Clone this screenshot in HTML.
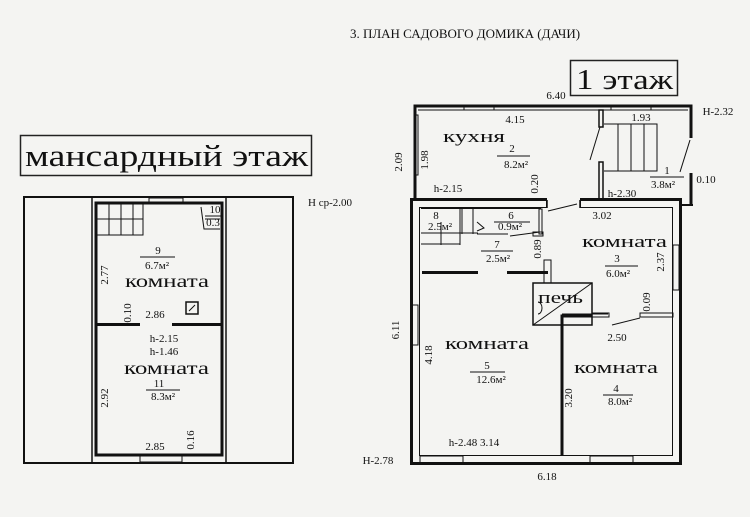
<!DOCTYPE html>
<html><head><meta charset="utf-8"><style>
html,body{margin:0;padding:0;background:#f4f4f2;}
svg{display:block;}
text{font-family:"Liberation Serif",serif;fill:#111;}
.s{font-family:"Liberation Serif",serif;}
</style></head><body>
<svg width="750" height="517" viewBox="0 0 750 517" xmlns="http://www.w3.org/2000/svg">
<rect width="750" height="517" fill="#f4f4f2"/>
<text x="465" y="38" font-size="13" text-anchor="middle">3. ПЛАН САДОВОГО ДОМИКА (ДАЧИ)</text>

<!-- LEFT: attic -->
<rect x="20.5" y="135.5" width="291" height="40" fill="none" stroke="#222" stroke-width="1.5"/>
<text class="s" x="25" y="166" font-size="31" textLength="283" lengthAdjust="spacingAndGlyphs">мансардный этаж</text>
<g fill="none" stroke="#111">
<rect x="24" y="197" width="269" height="266" stroke-width="2"/>
<line x1="92" y1="197" x2="92" y2="463" stroke-width="1.5"/>
<line x1="226" y1="197" x2="226" y2="463" stroke-width="1.5"/>
<rect x="96" y="203" width="126" height="252" stroke-width="3"/>
<rect x="149" y="198" width="34" height="5" stroke-width="1"/>
<rect x="140" y="456" width="42" height="6" stroke-width="1"/>
<rect x="97" y="204" width="46" height="31" stroke-width="1"/>
<line x1="109" y1="204" x2="109" y2="235"/><line x1="121" y1="204" x2="121" y2="235"/><line x1="133" y1="204" x2="133" y2="235"/>
<line x1="97" y1="219" x2="143" y2="219"/>
<polyline points="201,207 204,229 220,229" stroke-width="1"/>
<line x1="205" y1="219" x2="220" y2="219"/>
<rect x="186" y="302" width="12" height="12" stroke-width="1.5"/>
<line x1="189" y1="311" x2="195" y2="305"/>
</g>
<rect x="96" y="323" width="44" height="3" fill="#111"/>
<rect x="172" y="323" width="50" height="3" fill="#111"/>
<g font-size="11">
<text x="215" y="213" text-anchor="middle">10</text>
<line x1="205" y1="216" x2="222" y2="216" stroke="#111"/>
<text x="213" y="226" text-anchor="middle">0.3</text>
<text x="158" y="254" text-anchor="middle">9</text>
<line x1="140" y1="257" x2="175" y2="257" stroke="#111"/>
<text x="157" y="269" text-anchor="middle">6.7м²</text>
<text x="159" y="387" text-anchor="middle">11</text>
<line x1="146" y1="390" x2="180" y2="390" stroke="#111"/>
<text x="163" y="400" text-anchor="middle">8.3м²</text>
<text x="155" y="318" text-anchor="middle">2.86</text>
<text x="164" y="342" text-anchor="middle">h-2.15</text>
<text x="164" y="355" text-anchor="middle">h-1.46</text>
<text x="155" y="450" text-anchor="middle">2.85</text>
<text x="330" y="206" text-anchor="middle">H ср-2.00</text>
<text transform="translate(108,275) rotate(-90)" text-anchor="middle">2.77</text>
<text transform="translate(131,313) rotate(-90)" text-anchor="middle">0.10</text>
<text transform="translate(108,398) rotate(-90)" text-anchor="middle">2.92</text>
<text transform="translate(194,440) rotate(-90)" text-anchor="middle">0.16</text>
</g>
<text class="s" x="125" y="287" font-size="18" textLength="84" lengthAdjust="spacingAndGlyphs">комната</text>
<text class="s" x="124" y="374" font-size="18" textLength="85" lengthAdjust="spacingAndGlyphs">комната</text>

<!-- RIGHT: 1st floor -->
<rect x="570.5" y="60.5" width="107" height="35" fill="none" stroke="#222" stroke-width="1.5"/>
<text class="s" x="576" y="89" font-size="28" textLength="97" lengthAdjust="spacingAndGlyphs">1 этаж</text>
<g fill="none" stroke="#111">
<polyline points="415,200 415,106 691,106 691,138" stroke-width="3"/>
<line x1="418" y1="110" x2="688" y2="110" stroke-width="1"/>
<line x1="691" y1="173" x2="691" y2="205" stroke-width="3"/>
<line x1="681" y1="205" x2="693" y2="205" stroke-width="2"/>
<rect x="464" y="106" width="30" height="4" stroke-width="1"/>
<rect x="611" y="106" width="40" height="4" stroke-width="1"/>
<rect x="415" y="115" width="3" height="60" stroke-width="1"/>
<rect x="599" y="110" width="4" height="17" stroke-width="1.5"/>
<rect x="599" y="162" width="4" height="37" stroke-width="1.5"/>
<line x1="600" y1="127" x2="590" y2="160"/>
<line x1="690" y1="140" x2="680" y2="172"/>
<polyline points="604,124 657,124 657,171 604,171" stroke-width="1"/>
<line x1="618" y1="124" x2="618" y2="171"/><line x1="631" y1="124" x2="631" y2="171"/><line x1="644" y1="124" x2="644" y2="171"/>
<polyline points="547,203 415,203 415,460 677,460 677,203 580,203" stroke-width="10" stroke-linejoin="miter" stroke="#111"/>
<polyline points="546,204 416,204 416,459 676,459 676,204 581,204" stroke-width="6" stroke="#f4f4f2"/>
<line x1="547" y1="200" x2="547" y2="208" stroke-width="1.5"/>
<line x1="580" y1="200" x2="580" y2="208" stroke-width="1.5"/>
<line x1="548" y1="211" x2="577" y2="204"/>
<rect x="420" y="456" width="43" height="8" stroke-width="1"/>
<rect x="590" y="456" width="43" height="8" stroke-width="1"/>
<rect x="412" y="305" width="6" height="40" stroke-width="1"/>
<rect x="673" y="245" width="6" height="45" stroke-width="1"/>
<line x1="421" y1="233" x2="478" y2="233"/>
<line x1="421" y1="244" x2="460" y2="244"/>
<line x1="441" y1="222" x2="441" y2="245"/>
<line x1="460" y1="208" x2="460" y2="245"/>
<line x1="462" y1="208" x2="462" y2="234"/>
<line x1="473" y1="208" x2="473" y2="234"/>
<polyline points="477,222 484,228 477,231"/>
<line x1="477" y1="234" x2="508" y2="234"/>
<line x1="510" y1="236" x2="540" y2="232"/>
<rect x="539" y="209" width="3" height="25"/>
<rect x="533" y="232" width="10" height="4"/>
<rect x="544" y="260" width="7" height="23" stroke-width="1"/>
<rect x="533" y="283" width="59" height="42" stroke-width="1.5"/>
<line x1="533" y1="325" x2="592" y2="283"/>
<path d="M538 302 a4 6 0 0 1 0 12"/>
<polyline points="562,455 562,316 592,316" stroke-width="3"/>
<line x1="562" y1="314" x2="608" y2="314" stroke-width="1"/>
<rect x="592" y="313" width="17" height="4"/>
<rect x="640" y="313" width="33" height="4"/>
<line x1="612" y1="325" x2="640" y2="318"/>
</g>
<rect x="421" y="207" width="120" height="2" fill="#111"/>
<rect x="422" y="271" width="56" height="3" fill="#111"/>
<rect x="507" y="271" width="41" height="3" fill="#111"/>
<g font-size="11">
<text x="556" y="99" text-anchor="middle">6.40</text>
<text x="515" y="123" text-anchor="middle">4.15</text>
<text x="641" y="121" text-anchor="middle">1.93</text>
<text x="718" y="115" text-anchor="middle">H-2.32</text>
<text x="512" y="152" text-anchor="middle">2</text>
<line x1="497" y1="156" x2="530" y2="156" stroke="#111"/>
<text x="516" y="168" text-anchor="middle">8.2м²</text>
<text x="667" y="174" text-anchor="middle">1</text>
<line x1="650" y1="177" x2="684" y2="177" stroke="#111"/>
<text x="663" y="188" text-anchor="middle">3.8м²</text>
<text x="706" y="183" text-anchor="middle">0.10</text>
<text x="448" y="192" text-anchor="middle">h-2.15</text>
<text x="622" y="197" text-anchor="middle">h-2.30</text>
<text x="602" y="219" text-anchor="middle">3.02</text>
<text x="436" y="219" text-anchor="middle">8</text>
<text x="440" y="230" text-anchor="middle">2.5м²</text>
<text x="511" y="219" text-anchor="middle">6</text>
<line x1="494" y1="222" x2="530" y2="222" stroke="#111"/>
<text x="510" y="230" text-anchor="middle">0.9м²</text>
<text x="497" y="248" text-anchor="middle">7</text>
<line x1="481" y1="251" x2="513" y2="251" stroke="#111"/>
<text x="498" y="262" text-anchor="middle">2.5м²</text>
<text x="617" y="262" text-anchor="middle">3</text>
<line x1="605" y1="266" x2="638" y2="266" stroke="#111"/>
<text x="618" y="277" text-anchor="middle">6.0м²</text>
<text x="617" y="341" text-anchor="middle">2.50</text>
<text x="487" y="369" text-anchor="middle">5</text>
<line x1="470" y1="372" x2="505" y2="372" stroke="#111"/>
<text x="491" y="383" text-anchor="middle">12.6м²</text>
<text x="616" y="392" text-anchor="middle">4</text>
<line x1="603" y1="395" x2="633" y2="395" stroke="#111"/>
<text x="620" y="405" text-anchor="middle">8.0м²</text>
<text x="474" y="446" text-anchor="middle">h-2.48 3.14</text>
<text x="378" y="464" text-anchor="middle">H-2.78</text>
<text x="547" y="480" text-anchor="middle">6.18</text>
<text transform="translate(402,162) rotate(-90)" text-anchor="middle">2.09</text>
<text transform="translate(428,160) rotate(-90)" text-anchor="middle">1.98</text>
<text transform="translate(538,184) rotate(-90)" text-anchor="middle">0.20</text>
<text transform="translate(541,249) rotate(-90)" text-anchor="middle">0.89</text>
<text transform="translate(664,262) rotate(-90)" text-anchor="middle">2.37</text>
<text transform="translate(650,302) rotate(-90)" text-anchor="middle">0.09</text>
<text transform="translate(399,330) rotate(-90)" text-anchor="middle">6.11</text>
<text transform="translate(432,355) rotate(-90)" text-anchor="middle">4.18</text>
<text transform="translate(572,398) rotate(-90)" text-anchor="middle">3.20</text>
</g>
<text class="s" x="443" y="142" font-size="17" textLength="62" lengthAdjust="spacingAndGlyphs">кухня</text>
<text class="s" x="582" y="247" font-size="17" textLength="85" lengthAdjust="spacingAndGlyphs">комната</text>
<text class="s" x="538" y="303" font-size="17" textLength="45" lengthAdjust="spacingAndGlyphs">печь</text>
<text class="s" x="445" y="349" font-size="17" textLength="84" lengthAdjust="spacingAndGlyphs">комната</text>
<text class="s" x="574" y="373" font-size="17" textLength="84" lengthAdjust="spacingAndGlyphs">комната</text>
</svg>
</body></html>
